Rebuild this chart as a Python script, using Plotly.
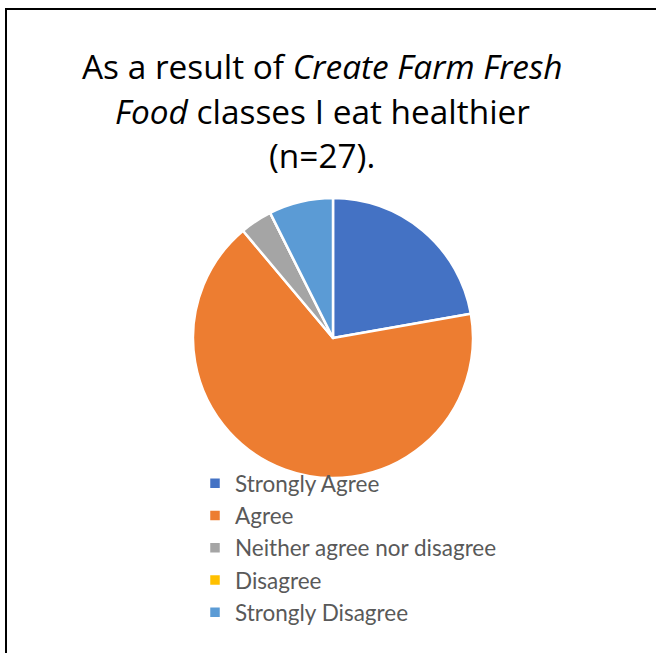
import plotly.graph_objects as go

W, H = 656, 653

labels = ["Strongly Agree", "Agree", "Neither agree nor disagree", "Disagree", "Strongly Disagree"]
values = [6, 18, 1, 0, 2]
colors = ["#4472C4", "#ED7D31", "#A5A5A5", "#FFC000", "#5B9BD5"]

title_lines = [
    "As a result of <i>Create Farm Fresh</i>",
    "<i>Food</i> classes I eat healthier",
    "(n=27).",
]
title_line_centers = [66, 111, 155]


def px_x(x):
    return x / W


def px_y(y):
    return 1 - y / H


fig = go.Figure(
    go.Pie(
        labels=labels,
        values=values,
        marker=dict(colors=colors, line=dict(color="white", width=2.5)),
        sort=False,
        direction="clockwise",
        rotation=0,
        textinfo="none",
        hoverinfo="label+value+percent",
        domain=dict(x=[px_x(193), px_x(473)], y=[px_y(478), px_y(198)]),
    )
)

annotations = []
for line, yc in zip(title_lines, title_line_centers):
    annotations.append(
        dict(
            text=line,
            x=px_x(322),
            y=px_y(yc),
            xref="paper",
            yref="paper",
            xanchor="center",
            yanchor="middle",
            align="center",
            showarrow=False,
            font=dict(family="Open Sans", size=33.4, color="#000000"),
        )
    )

fig.update_layout(
    width=W,
    height=H,
    margin=dict(l=0, r=0, t=0, b=0),
    paper_bgcolor="white",
    plot_bgcolor="white",
    font=dict(family="Lato", color="#595959"),
    showlegend=True,
    legend=dict(
        x=px_x(195),
        y=px_y(462),
        xanchor="left",
        yanchor="top",
        font=dict(size=22.5, color="#595959", family="Lato"),
        bgcolor="rgba(0,0,0,0)",
    ),
    annotations=annotations,
    shapes=[
        dict(type="line", xref="paper", yref="paper",
             x0=px_x(6), x1=px_x(6), y0=px_y(8), y1=px_y(653),
             line=dict(color="black", width=2)),
        dict(type="line", xref="paper", yref="paper",
             x0=px_x(5), x1=px_x(656), y0=px_y(9), y1=px_y(9),
             line=dict(color="black", width=2)),
    ],
)

fig.write_html("out.html")
